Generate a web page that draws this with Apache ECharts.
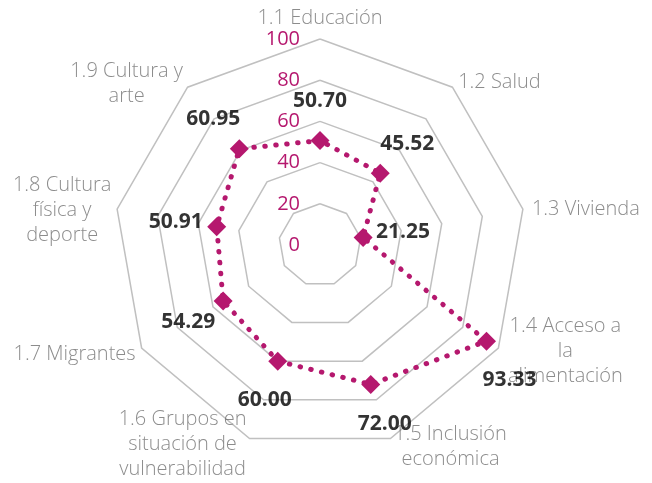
<!DOCTYPE html>
<html>
<head>
<meta charset="utf-8">
<script src="https://cdn.jsdelivr.net/npm/echarts@6/dist/echarts.min.js"></script>
<style>
  html, body { margin: 0; background: #fff; }
  #chart { width: 652px; height: 483px; }
</style>
</head>
<body>
<div id="chart"></div>
<script>
// indicator names (line breaks as in the original), clockwise from the top
const indicators = [
  '1.1 Educación',
  '1.2 Salud',
  '1.3 Vivienda',
  '1.4 Acceso a\nla\nalimentación',
  '1.5 Inclusión\neconómica',
  '1.6 Grupos en\nsituación de\nvulnerabilidad',
  '1.7 Migrantes',
  '1.8 Cultura\nfísica y\ndeporte',
  '1.9 Cultura y\narte'
];
const values = [50.70, 45.52, 21.25, 93.33, 72.00, 60.00, 54.29, 50.91, 60.95];
const tickMin = 0;
const tickMax = 100;
const tickStep = 20;

// label placement (pixel offsets from the anchor point)
const nameOffsets = [[0, -21], [47, -5], [63, 0], [67, 3], [60, 8], [-67, 6], [-67, 6], [-55, 1], [-61, -3]];
const valueOffsets = [[0, -40], [27, -29], [40, -5], [23, 39], [14, 40], [-13, 39], [-35, 21], [-41, -5], [-26, -30]];

const magenta = '#B5186E';
const step = 360 / indicators.length;
const center = [320, 245];
const radius = 206;

// echarts radar runs counter-clockwise, so feed it the indicators in reverse (keeping the first on top)
const radarOrder = [0].concat(indicators.map((_, i) => i).slice(1).reverse());

const chart = echarts.init(document.getElementById('chart'));

chart.setOption({
  animation: false,
  backgroundColor: '#fff',
  radar: {
    center: center,
    radius: radius,
    startAngle: 90,
    shape: 'polygon',
    splitNumber: (tickMax - tickMin) / tickStep,
    indicator: radarOrder.map(i => ({ name: indicators[i], min: tickMin, max: tickMax })),
    axisName: { show: false },
    axisLine: { show: false },
    axisTick: { show: false },
    axisLabel: { show: false },
    splitArea: { show: false },
    splitLine: { lineStyle: { color: '#c0c0c0', width: 1.5 } }
  },
  polar: { center: center, radius: radius },
  angleAxis: {
    type: 'value', min: 0, max: 360, startAngle: 90, clockwise: true, show: false
  },
  radiusAxis: {
    type: 'value', min: tickMin, max: tickMax, interval: tickStep,
    axisLine: { show: false },
    axisTick: { show: false },
    splitLine: { show: false },
    axisLabel: {
      color: magenta, fontSize: 20, margin: 20,
      fontFamily: 'Open Sans'
    }
  },
  series: [
    {
      type: 'radar',
      silent: true,
      symbol: 'diamond',
      symbolSize: 19,
      itemStyle: { color: magenta },
      lineStyle: { color: magenta, width: 5, type: [0.5, 10.5], cap: 'round' },
      data: [{ value: radarOrder.map(i => values[i]) }]
    },
    {
      type: 'scatter',
      coordinateSystem: 'polar',
      silent: true,
      symbolSize: 0,
      label: {
        show: true,
        position: 'inside',
        color: '#6f6f6f',
        fontFamily: 'Open Sans',
        fontWeight: 300,
        fontSize: 20,
        lineHeight: 25,
        align: 'center',
        formatter: p => indicators[p.dataIndex]
      },
      data: indicators.map((n, i) => ({ value: [tickMax, i * step], label: { offset: nameOffsets[i] } }))
    },
    {
      type: 'scatter',
      coordinateSystem: 'polar',
      silent: true,
      symbolSize: 0,
      z: 5,
      label: {
        show: true,
        position: 'inside',
        color: '#000',
        fontFamily: 'Open Sans',
        fontWeight: 'bold',
        fontSize: 21,
        formatter: p => p.value[0].toFixed(2)
      },
      data: values.map((v, i) => ({ value: [v, i * step], label: { offset: valueOffsets[i] } }))
    }
  ]
});
</script>
</body>
</html>
